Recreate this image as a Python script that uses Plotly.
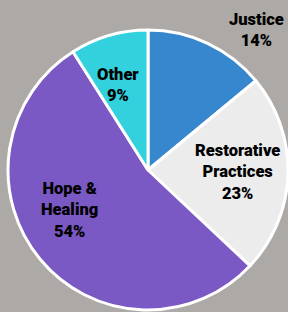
import plotly.graph_objects as go

labels = ["Justice", "Restorative<br>Practices", "Hope &<br>Healing", "Other"]
values = [14, 23, 54, 9]
colors = ["#3787CE", "#ECECEC", "#7B59C4", "#33D0DD"]

# label anchor positions (paper coords) for the text blocks
label_x = [256 / 288, 237 / 288, 69 / 288, 118 / 288]
label_y = [1 - 30 / 312, 1 - 172 / 312, 1 - 210 / 312, 1 - 85 / 312]

fig = go.Figure(
    go.Pie(
        labels=labels,
        values=values,
        sort=False,
        direction="clockwise",
        rotation=0,
        marker=dict(colors=colors, line=dict(color="white", width=3)),
        textinfo="none",
        hoverinfo="label+percent",
        showlegend=False,
        domain=dict(x=[8 / 288, 288 / 288], y=[1 - 310 / 312, 1 - 30 / 312]),
    )
)

font = dict(family="Roboto, sans-serif", size=16.5, color="black", weight=900)
total = sum(values)
for lab, v, x, y in zip(labels, values, label_x, label_y):
    fig.add_annotation(
        x=x, y=y, xref="paper", yref="paper",
        text="%s<br>%d%%" % (lab, round(100 * v / total)),
        showarrow=False, font=font, align="center",
        xanchor="center", yanchor="middle",
    )

fig.update_layout(
    width=288, height=312,
    margin=dict(l=0, r=0, t=0, b=0),
    paper_bgcolor="#ADA9A7",
    plot_bgcolor="#ADA9A7",
)

fig.write_html("out.html", config={"displayModeBar": False},
               post_script="document.body.style.margin='0';document.body.style.overflow='hidden';")
